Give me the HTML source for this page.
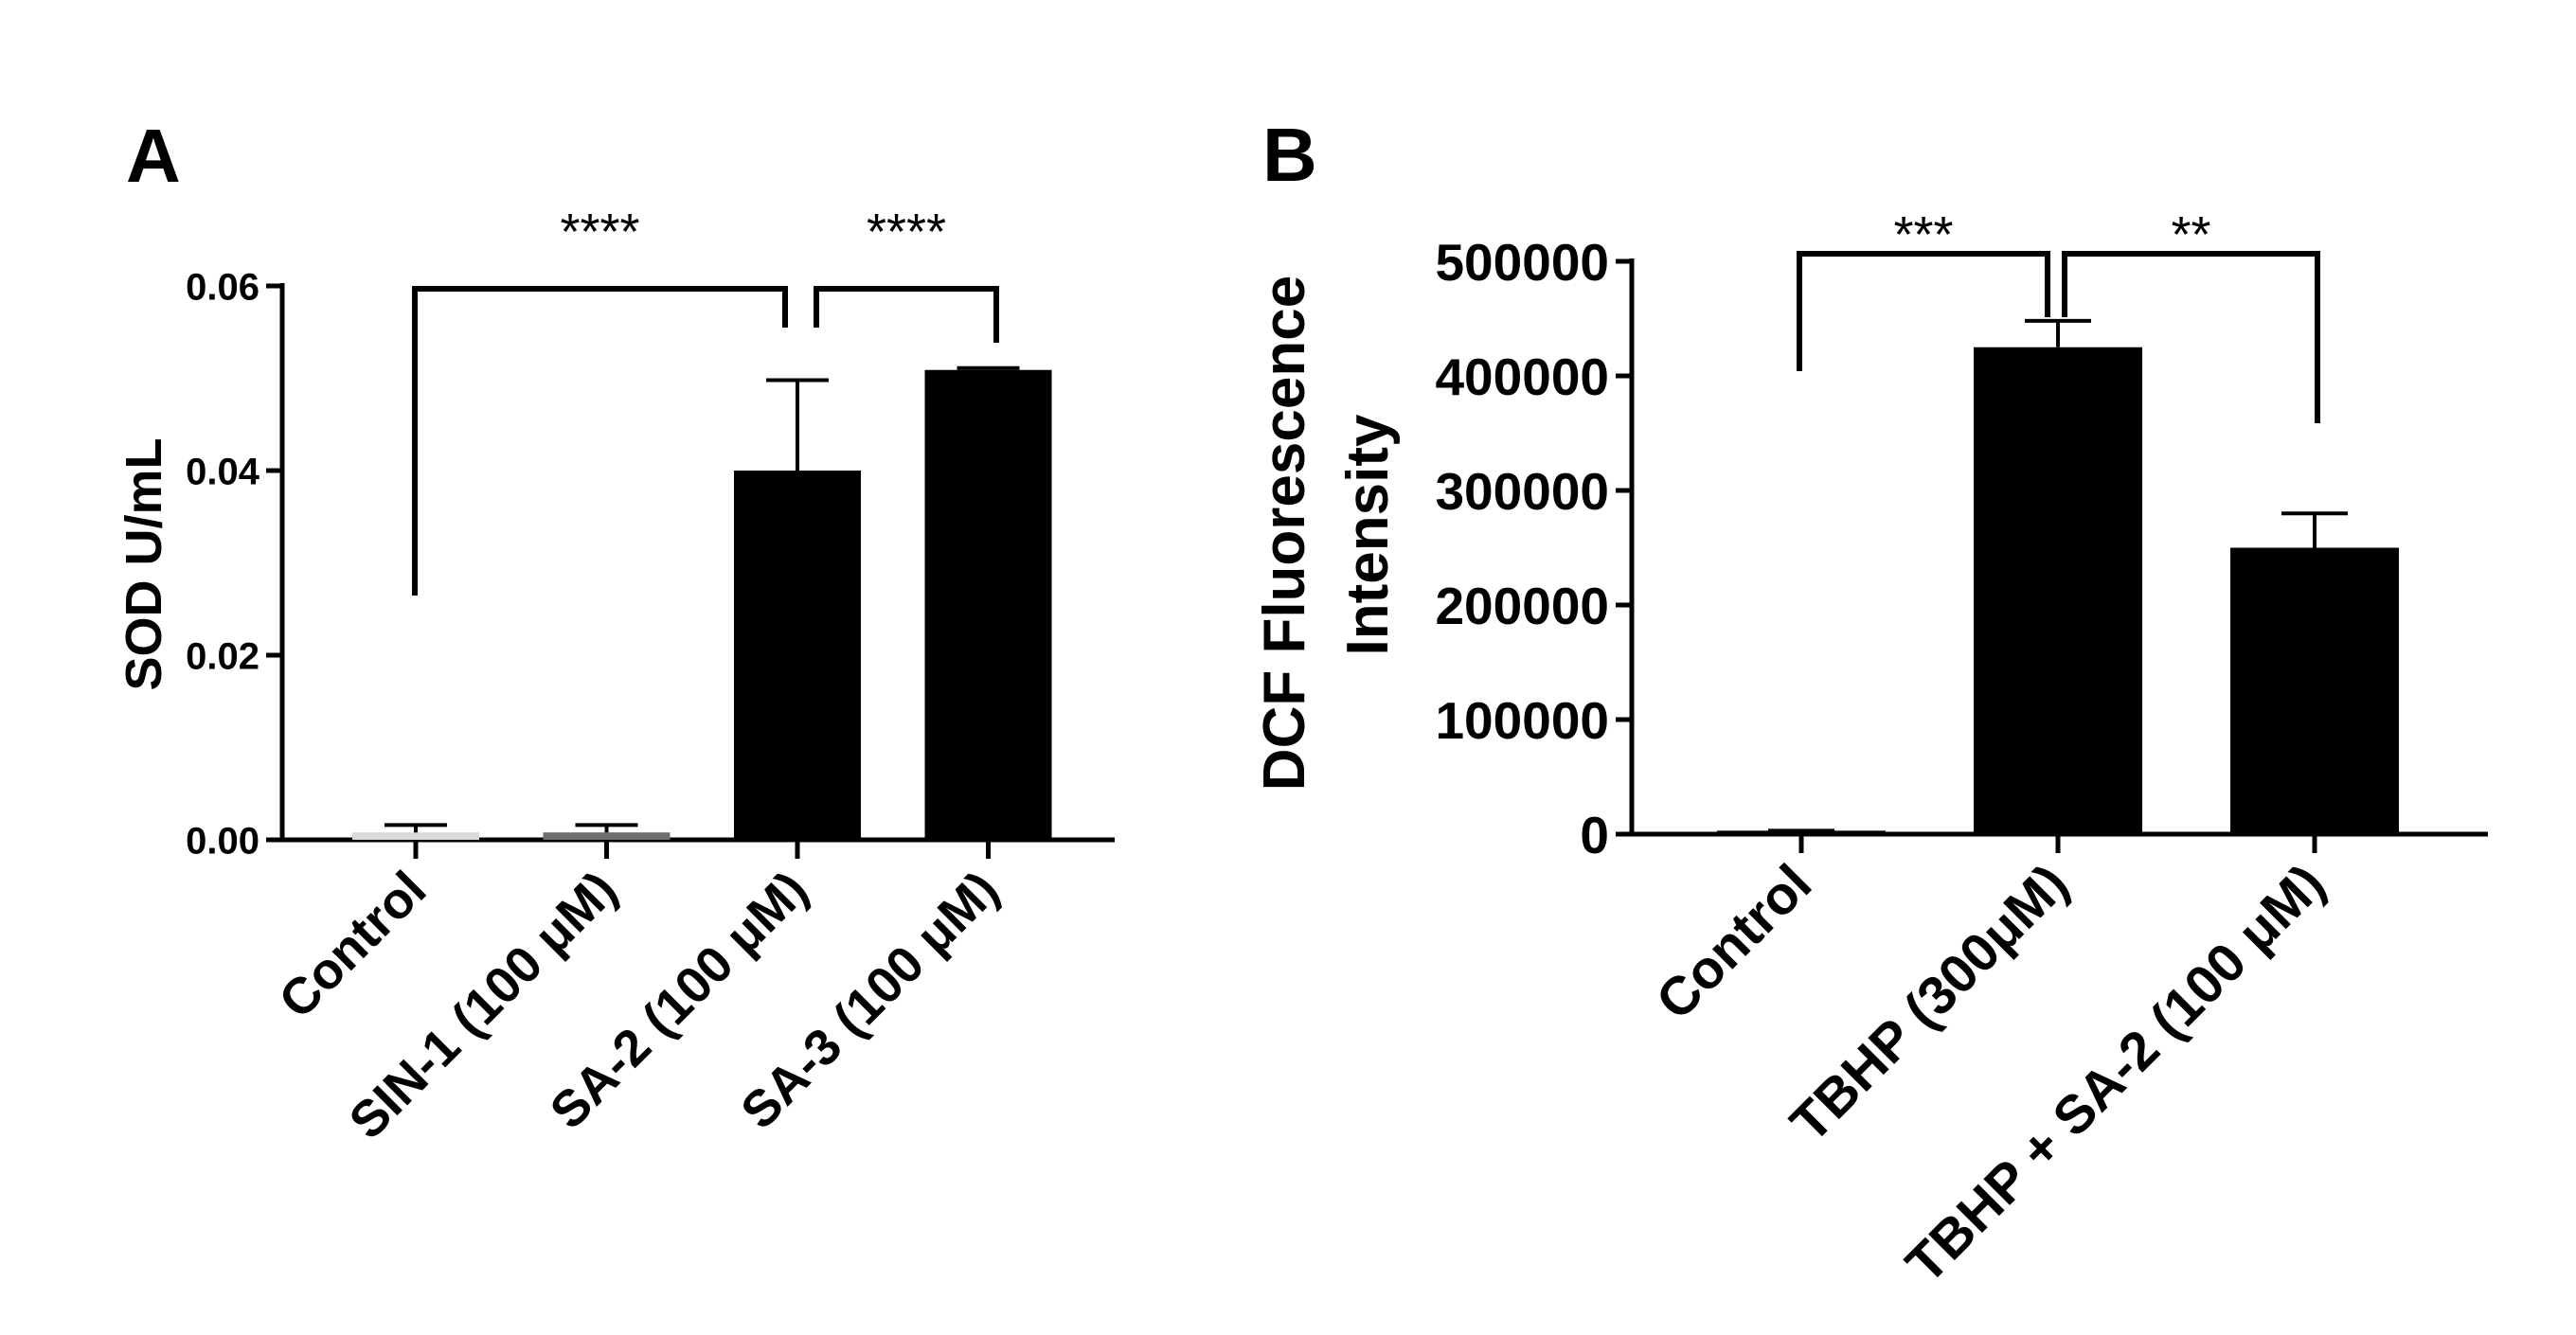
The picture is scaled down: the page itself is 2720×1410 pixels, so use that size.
<!DOCTYPE html>
<html><head><meta charset="utf-8"><style>
html,body{margin:0;padding:0;background:#fff;}
svg{display:block;font-family:"Liberation Sans",Arial,sans-serif;}
</style></head><body>
<svg id="fig" width="2720" height="1410" viewBox="0 0 2720 1410" xmlns="http://www.w3.org/2000/svg">
<rect width="2720" height="1410" fill="#fff"/>
<text x="133" y="192" font-size="80" font-weight="bold">A</text>
<text x="1333" y="191" font-size="80" font-weight="bold">B</text>
<text transform="translate(170,596) rotate(-90)" text-anchor="middle" font-size="54" font-weight="bold">SOD U/mL</text>
<text transform="translate(1377,563) rotate(-90)" text-anchor="middle" font-size="62" font-weight="bold">DCF Fluorescence</text>
<text transform="translate(1465,565) rotate(-90)" text-anchor="middle" font-size="62" font-weight="bold">Intensity</text>
<g id="ga"></g><g id="gb"></g>
</svg>
<script>
const catsA = ["Control","SIN-1 (100 \u03bcM)","SA-2 (100 \u03bcM)","SA-3 (100 \u03bcM)"];
const valsA = [0.0008,0.0008,0.040,0.0509];
const errA = [0.0016,0.0016,0.0498,0.0511];
const colorsA = ["#d9d9d9","#6e6e6e","#000","#000"];
const ticksA = [0,0.02,0.04,0.06];
const tickLabelsA = ["0.00","0.02","0.04","0.06"];
const catsB = ["Control","TBHP (300\u03bcM)","TBHP + SA-2 (100 \u03bcM)"];
const valsB = [3000,425000,250000];
const errB = [3000,448000,280000];
const ticksB = [0,100000,200000,300000,400000,500000];
const tickLabelsB = ["0","100000","200000","300000","400000","500000"];
const NS="http://www.w3.org/2000/svg";
function mk(p,tag,at,txt){const e=document.createElementNS(NS,tag);for(const k in at)e.setAttribute(k,at[k]);if(txt!==undefined)e.textContent=txt;p.appendChild(e);return e;}
function panel(g,o){
  const yS=v=>o.y0+(o.y1-o.y0)*(v/o.max);
  const xS=i=>o.x0c+i*o.step;
  const ax=mk(g,'line',{x1:o.ax,y1:o.y1-3,x2:o.ax,y2:o.y0+2.5,stroke:'#000','stroke-width':5});
  
  
  const xa=mk(g,'line',{x1:o.ax-17,y1:o.y0,x2:o.xend,y2:o.y0,stroke:'#000','stroke-width':5});
  
  
  o.ticks.forEach((t,i)=>{
    const y=yS(t);
    const tk=mk(g,'line',{x1:o.ax-17,y1:y,x2:o.ax,y2:y,stroke:'#000','stroke-width':5});
    
    
    const tl=mk(g,'text',{x:o.ax-24,y:y+o.tfs*0.36,'text-anchor':'end','font-size':o.tfs,'font-weight':'bold'},o.tickLabels[i]);
    
    
  });
  o.cats.forEach((c,i)=>{
    const x=xS(i),top=yS(o.vals[i]),et=yS(o.errs[i]);
    const b=mk(g,'rect',{x:x-o.bw/2,y:top,width:o.bw,height:o.y0-top,fill:o.colors[i]});
    
    
    const e=mk(g,'path',{d:`M${x},${top} V${et} M${x-o.cap},${et} H${x+o.cap}`,stroke:'#000','stroke-width':4,fill:'none'});
    
    
    const tk=mk(g,'line',{x1:x,y1:o.y0,x2:x,y2:o.y0+20,stroke:'#000','stroke-width':5});
    
    
    const lx=x+14,ly=o.y0+56;
    const l=mk(g,'text',{transform:`translate(${lx},${ly}) rotate(-45)`,'text-anchor':'end','font-size':o.lfs,'font-weight':'bold'},c);
    
    
  });
  o.brackets.forEach(br=>{
    const p=mk(g,'path',{d:`M${br[0]},${br[1]} V${br[2]} H${br[3]} V${br[4]}`,stroke:'#000','stroke-width':6,fill:'none'});
    
    
    const s=mk(g,'text',{x:(br[0]+br[3])/2,y:br[2]-br[6],'text-anchor':'middle','font-size':54},br[5]);
    
    
  });
}
panel(document.getElementById('ga'),{ax:298,y0:887,y1:302,max:0.06,x0c:439,step:201.5,xend:1177,bw:134,cap:33,
  ticks:ticksA,tickLabels:tickLabelsA,cats:catsA,vals:valsA,errs:errA,colors:colorsA,tfs:40,lfs:54,
  brackets:[[438,629,305,829,346,"****",42],[862,346,305,1052,362,"****",42]]});
panel(document.getElementById('gb'),{ax:1723,y0:881,y1:276,max:500000,x0c:1902,step:271,xend:2627,bw:178,cap:35,
  ticks:ticksB,tickLabels:tickLabelsB,cats:catsB,vals:valsB,errs:errB,colors:["#000","#000","#000"],tfs:55,lfs:57,
  brackets:[[1900,392,268,2162,335,"***",2],[2180,335,268,2447,447,"**",2]]});
</script>
</body></html>
